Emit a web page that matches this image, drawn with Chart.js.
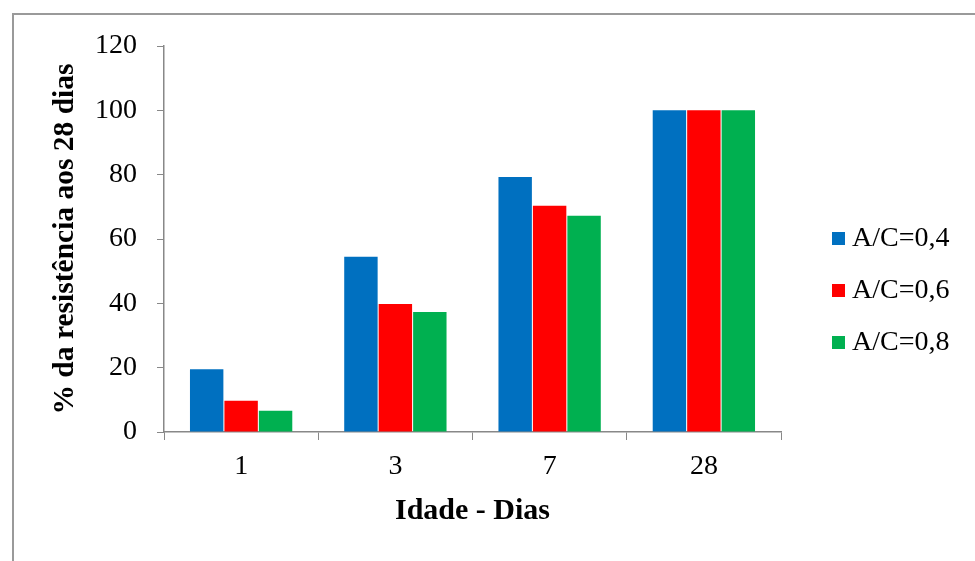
<!DOCTYPE html>
<html><head><meta charset="utf-8">
<script src="https://cdn.jsdelivr.net/npm/chart.js@4"></script>
<style>
html,body{margin:0;padding:0;background:#fff;overflow:hidden}
#wrap{position:relative;width:975px;height:561px}
#frame{position:absolute;left:12px;top:13px;width:1000px;height:600px;border-left:2px solid #9a9a9a;border-top:2px solid #9a9a9a;box-sizing:border-box}
canvas{position:absolute;left:0;top:0}
</style></head>
<body><div id="wrap"><div id="frame"></div><canvas id="c" width="975" height="561"></canvas></div>
<script>
const categories = ['1', '3', '7', '28'];
const seriesNames = ['A/C=0,4', 'A/C=0,6', 'A/C=0,8'];
const ac04 = [19.5, 54.5, 79.3, 100];
const ac06 = [9.7, 39.8, 70.3, 100];
const ac08 = [6.6, 37.3, 67.2, 100];
const colors = ['#0070C0', '#FF0000', '#00B050'];
const yTicks = [0, 20, 40, 60, 80, 100, 120];

const FONT = "'Liberation Serif', 'Times New Roman', serif";

const legendPlugin = {
  id: 'customLegend',
  afterDraw(chart) {
    const ctx = chart.ctx;
    ctx.save();
    chart.data.datasets.forEach((ds, i) => {
      const cy = 238 + i * 52;
      ctx.fillStyle = ds.backgroundColor;
      ctx.fillRect(832, cy - 6, 13, 13);
      ctx.fillStyle = '#000';
      ctx.font = "28px " + FONT;
      ctx.textBaseline = 'middle';
      ctx.textAlign = 'left';
      ctx.fillText(ds.label, 852, cy + 1);
    });
    ctx.restore();
  }
};

new Chart(document.getElementById('c'), {
  type: 'bar',
  data: {
    labels: categories,
    datasets: [
      { label: seriesNames[0], data: ac04, backgroundColor: colors[0] },
      { label: seriesNames[1], data: ac06, backgroundColor: colors[1] },
      { label: seriesNames[2], data: ac08, backgroundColor: colors[2] }
    ]
  },
  options: {
    responsive: false,
    animation: false,
    devicePixelRatio: 1,
    layout: { padding: { left: 0, right: 194, top: 46, bottom: 0 } },
    datasets: { bar: { categoryPercentage: 0.67, barPercentage: 0.97, borderWidth: 0 } },
    plugins: { legend: { display: false }, tooltip: { enabled: false } },
    scales: {
      x: {
        afterFit(s) { s.height = 129; },
        grid: { drawOnChartArea: false, drawTicks: true, tickLength: 8, color: '#888', offset: true },
        border: { color: '#888', width: 1.5 },
        ticks: { color: '#000', font: { family: FONT, size: 28 }, padding: 10 },
        title: { display: true, text: 'Idade - Dias', color: '#000', font: { family: FONT, size: 30, weight: 'bold' }, padding: { top: 0, bottom: 32 } }
      },
      y: {
        min: 0, max: 120,
        afterFit(s) { s.width = 164; },
        afterBuildTicks(s) { s.ticks = yTicks.map(v => ({ value: v })); },
        grid: { drawOnChartArea: false, drawTicks: true, tickLength: 7, color: '#888' },
        border: { color: '#888', width: 1.5 },
        ticks: { color: '#000', font: { family: FONT, size: 28 }, padding: 20 },
        title: { display: true, text: '% da resistência aos 28 dias', color: '#000', font: { family: FONT, size: 29.5, weight: 'bold' }, padding: { top: 48, bottom: 0 } }
      }
    }
  },
  plugins: [legendPlugin]
});
</script></body></html>
